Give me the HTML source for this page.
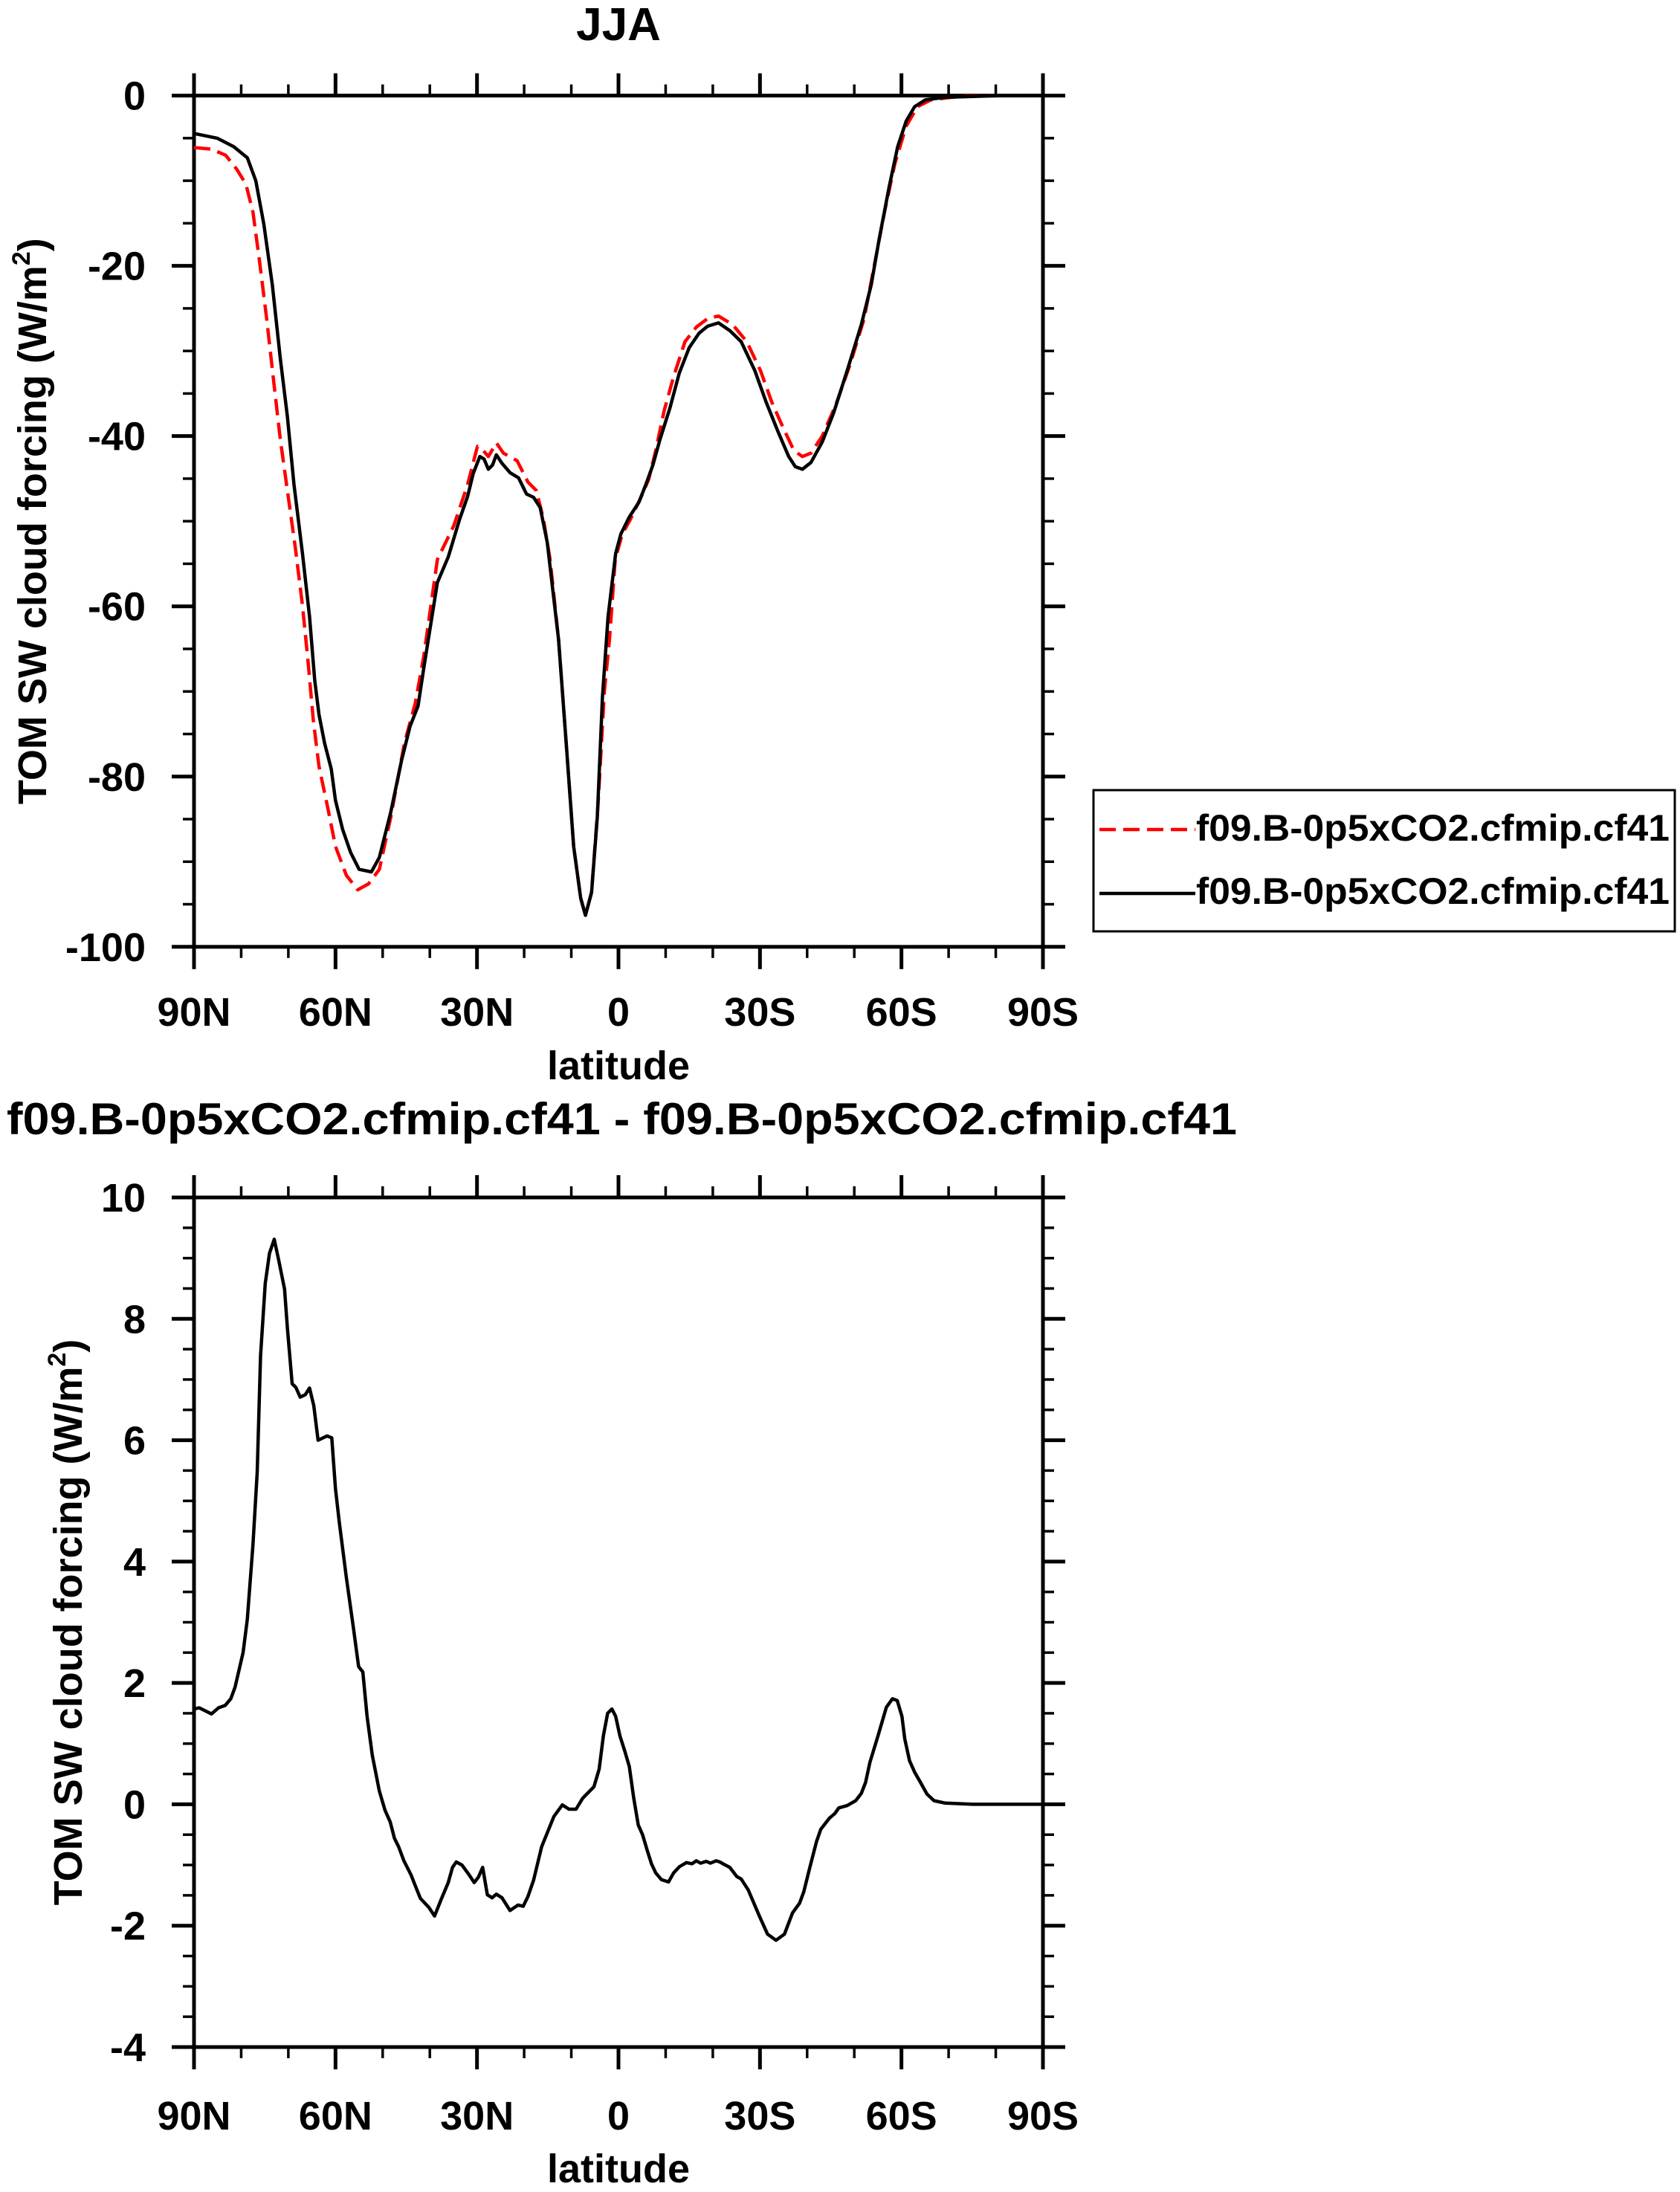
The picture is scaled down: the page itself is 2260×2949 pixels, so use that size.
<!DOCTYPE html>
<html><head><meta charset="utf-8"><style>
html,body{margin:0;padding:0;background:#fff;}
svg text{font-family:"Liberation Sans",Arial,sans-serif;font-weight:bold;fill:#000;}
</style></head><body>
<svg id="chart" xmlns="http://www.w3.org/2000/svg" width="2260" height="2944" viewBox="0 0 2260 2944">
<rect x="0" y="0" width="2260" height="2944" fill="#fff"/>
<text x="832" y="54" font-size="62" text-anchor="middle">JJA</text>
<text x="9" y="1526" font-size="60" textLength="1655" lengthAdjust="spacingAndGlyphs">f09.B-0p5xCO2.cfmip.cf41 - f09.B-0p5xCO2.cfmip.cf41</text>
<g id="top"></g>
<g id="bot"></g>
<g>
<rect x="1471" y="1063" width="782" height="190" fill="none" stroke="#000" stroke-width="3"/>
<line x1="1479" y1="1116" x2="1608" y2="1116" stroke="#f00" stroke-width="4.5" stroke-dasharray="22,10"/>
<text x="1609" y="1131" font-size="50" textLength="637" lengthAdjust="spacingAndGlyphs">f09.B-0p5xCO2.cfmip.cf41</text>
<line x1="1479" y1="1202" x2="1608" y2="1202" stroke="#000" stroke-width="4.5"/>
<text x="1609" y="1216" font-size="50" textLength="637" lengthAdjust="spacingAndGlyphs">f09.B-0p5xCO2.cfmip.cf41</text>
</g>
</svg>
<script>
const xTickVals=[90,60,30,0,-30,-60,-90];
const xTickLabels=["90N","60N","30N","0","30S","60S","90S"];
const topYTicks=[0,-20,-40,-60,-80,-100];
const botYTicks=[10,8,6,4,2,0,-2,-4];
const blackLat=[90,85.1,81.6,78.7,76.9,75.2,73.4,71.7,70.2,68.8,67,65.5,64.4,63.5,62.3,60.9,60,58.5,56.8,55,52.4,50.7,48.3,46,44.2,42.5,41.3,38.4,36.1,33.7,32,30.8,29.4,28.5,27.6,26.7,25.9,24.7,23,21.2,19.5,18,16.6,15.1,12.7,11,9.5,8,7,5.7,4.5,3.4,2.2,0.6,-0.5,-2.3,-4.3,-5.8,-7.3,-8.8,-10.9,-12.9,-15,-17.1,-18.9,-21.2,-23.6,-26,-28.9,-31.3,-33.7,-36.1,-37.5,-39,-40.8,-43.2,-45.6,-48.5,-51.5,-53.6,-55.3,-57.4,-59.2,-61,-62.8,-65.1,-69.3,-75.2,-81.1,-90];
const blackVal=[-4.45,-5,-6,-7.3,-10,-15.1,-22.2,-30.9,-37.7,-45.7,-53.8,-61.2,-68.7,-72.7,-76.1,-79.1,-82.8,-86.2,-88.9,-90.9,-91.2,-89.5,-84.2,-78.1,-74.1,-71.7,-67.3,-57.2,-54.2,-49.8,-47.1,-44.4,-42.4,-42.7,-43.9,-43.4,-42.2,-43.2,-44.3,-44.9,-46.8,-47.2,-48.4,-52.5,-63.9,-76.7,-88.2,-94.3,-96.3,-93.6,-84.8,-70.7,-61.2,-53.8,-51.5,-49.5,-47.8,-45.7,-43.4,-40.4,-36.7,-32.6,-29.6,-27.9,-27.1,-26.7,-27.6,-28.9,-32.3,-36,-39.3,-42.4,-43.6,-43.9,-43.1,-40.7,-37.3,-32.3,-26.9,-22.2,-16.8,-10.7,-6,-3,-1.3,-0.5,-0.2,-0.1,0,0];
const redLat=[90,86.3,83.3,81,79,77.5,76.1,74.6,73.1,71.7,70.2,68.5,67,65.8,64.7,63.5,61.7,60,57.7,55.3,53,50.7,48.3,45.4,43.1,41.3,38.4,34.9,32,29.9,28.8,27.6,25.9,24.4,21.5,19.2,17.4,15.9,14.5,12.7,11,9.5,8,7,5.7,4.3,3,1.9,0.7,-0.8,-2.5,-4.6,-6.4,-7.9,-9.7,-11.7,-14.1,-16.5,-18.9,-21.2,-24.2,-27.2,-30.1,-32.5,-34.9,-37.2,-39,-40.8,-43.2,-46.1,-49.1,-52.1,-54.4,-56.5,-58.6,-61,-63.4,-66.3,-72.2,-81,-90];
const redVal=[-6.1,-6.3,-7,-8.6,-10.4,-13.7,-19.5,-26.2,-33.6,-40.4,-46.4,-53.2,-59.9,-66.6,-73.4,-78.8,-83.5,-88.2,-91.6,-93.3,-92.6,-90.9,-84.8,-76.1,-71.4,-65.9,-54.5,-50.5,-45.7,-41.2,-41.6,-42.4,-40.8,-42,-42.9,-45.4,-46.4,-49.8,-54.5,-63.9,-76.7,-88.2,-94.3,-96.3,-93.6,-83,-70,-63.9,-54.5,-51.5,-49.8,-47.4,-45.1,-41.7,-37,-33,-28.9,-27.2,-26.2,-25.9,-26.9,-28.9,-32.3,-36,-39,-41.7,-42.4,-42,-40,-36.3,-31.6,-26.2,-19.5,-13.4,-8,-3.6,-1.3,-0.5,-0.1,0,0];
const diffLat=[90,88.9,86.3,84.8,83.4,82.2,81.3,79.6,78.7,77.5,76.6,75.9,74.9,74.0,73.0,72.0,70.8,70.2,69.2,68.4,67.5,66.4,65.5,64.6,63.7,61.8,60.8,60.0,59.2,57.7,56.2,55.1,54.2,53.3,52.2,50.7,49.5,48.4,47.5,46.6,45.5,44.0,43.1,42.0,40.2,39.0,37.6,36.1,35.2,34.4,33.2,31.7,30.6,29.7,28.8,27.8,26.8,25.9,24.7,23.0,21.3,20.2,19.2,18.0,16.3,15.1,13.7,11.9,10.5,9.0,7.6,5.2,4.1,3.2,2.3,1.4,0.6,-0.3,-1.4,-2.3,-3.2,-4.2,-5.1,-6.1,-7.0,-7.9,-9.1,-10.6,-11.7,-12.9,-14.4,-15.6,-16.5,-17.4,-18.6,-19.5,-20.7,-21.5,-22.4,-23.6,-25.1,-26.0,-27.5,-28.6,-29.8,-31.6,-33.4,-35.2,-36.9,-38.4,-39.3,-40.5,-42.0,-42.9,-44.7,-45.9,-46.7,-48.5,-50.3,-51.5,-52.4,-53.3,-55.0,-56.8,-58.1,-59.1,-60.1,-60.7,-61.7,-62.8,-63.9,-65.4,-66.9,-69.3,-75.2,-90];
const diffVal=[1.57,1.59,1.49,1.59,1.63,1.74,1.93,2.5,3.05,4.28,5.47,7.39,8.58,9.08,9.31,8.95,8.49,7.85,6.93,6.87,6.71,6.75,6.86,6.57,6.0,6.07,6.04,5.2,4.65,3.74,2.91,2.27,2.18,1.45,0.81,0.22,-0.1,-0.29,-0.56,-0.7,-0.93,-1.16,-1.34,-1.55,-1.7,-1.84,-1.57,-1.29,-1.04,-0.95,-1.0,-1.16,-1.29,-1.2,-1.04,-1.49,-1.54,-1.48,-1.54,-1.75,-1.66,-1.68,-1.52,-1.25,-0.7,-0.47,-0.2,-0.01,-0.08,-0.08,0.1,0.29,0.58,1.13,1.5,1.57,1.45,1.13,0.86,0.62,0.12,-0.34,-0.5,-0.76,-0.98,-1.13,-1.24,-1.28,-1.13,-1.03,-0.96,-0.98,-0.93,-0.97,-0.94,-0.97,-0.93,-0.95,-0.99,-1.04,-1.19,-1.23,-1.41,-1.61,-1.83,-2.14,-2.24,-2.14,-1.79,-1.63,-1.44,-1.06,-0.61,-0.41,-0.23,-0.15,-0.06,-0.02,0.06,0.18,0.36,0.69,1.12,1.6,1.74,1.71,1.45,1.08,0.72,0.53,0.38,0.17,0.06,0.02,0,0];

const NS="http://www.w3.org/2000/svg";
function mk(parent,tag,attrs){const e=document.createElementNS(NS,tag);for(const k in attrs)e.setAttribute(k,attrs[k]);parent.appendChild(e);return e;}
const L=261,R=1403;
function xs(lat){return L+(90-lat)*(R-L)/180;}

function drawPanel(g,yTop,yBot,vTop,vBot,yTicks,yMinorStep,yLabelX,tickLabelY,latY,prefix){
  const ys=v=>yTop+(vTop-v)*(yBot-yTop)/(vTop-vBot);
  const box=mk(g,'rect',{x:L,y:yTop,width:R-L,height:yBot-yTop,fill:'none',stroke:'#000','stroke-width':5});
  
  
  for(let lat=90;lat>=-90;lat-=10){
    const major=lat%30===0, len=major?30:15, x=xs(lat), w=major?5:3.5;
    const t1=mk(g,'line',{x1:x,y1:yTop,x2:x,y2:yTop-len,stroke:'#000','stroke-width':w});
    
    
    const t2=mk(g,'line',{x1:x,y1:yBot,x2:x,y2:yBot+len,stroke:'#000','stroke-width':w});
    
    
  }
  xTickVals.forEach((v,i)=>{
    const t=mk(g,'text',{x:xs(v),y:tickLabelY,'font-size':54,'text-anchor':'middle'});
    t.textContent=xTickLabels[i];
    
    
  });
  for(let v=vTop;v>=vBot-1e-9;v-=yMinorStep){
    const vv=Math.round(v*100)/100;
    const major=yTicks.some(t=>Math.abs(t-vv)<1e-6), len=major?30:15, y=ys(vv), w=major?5:3.5;
    const a=mk(g,'line',{x1:L,y1:y,x2:L-len,y2:y,stroke:'#000','stroke-width':w});
    
    
    const b=mk(g,'line',{x1:R,y1:y,x2:R+len,y2:y,stroke:'#000','stroke-width':w});
    
    
  }
  yTicks.forEach(v=>{
    const t=mk(g,'text',{x:196,y:ys(v)+19,'font-size':54,'text-anchor':'end'});
    t.textContent=String(v);
    
    
  });
  const cy=(yTop+yBot)/2;
  const yt=mk(g,'text',{x:yLabelX,y:cy,'font-size':54,'text-anchor':'middle',transform:`rotate(-90 ${yLabelX} ${cy})`,dy:19});
  yt.innerHTML='TOM SW cloud forcing (W/m<tspan font-size="34" dy="-22">2</tspan><tspan dy="22">)</tspan>';
  
  
  const xt=mk(g,'text',{x:(L+R)/2,y:latY,'font-size':54,'text-anchor':'middle'});
  xt.textContent='latitude';
  
  
  return ys;
}
function series(g,lats,vals,ys,color,dash,name){
  const d=lats.map((la,i)=>(i?'L':'M')+xs(la).toFixed(1)+','+ys(vals[i]).toFixed(1)).join(' ');
  const p=mk(g,'path',{d:d,fill:'none',stroke:color,'stroke-width':4.5,'stroke-linejoin':'round'});
  if(dash)p.setAttribute('stroke-dasharray',dash);
  
  
}
const gt=document.getElementById('top');


const ysT=drawPanel(gt,128.6,1273.8,0,-100,topYTicks,5,43,1380,1452,'top');
series(gt,redLat,redVal,ysT,'#f00','22,10','red-dashed-series');
series(gt,blackLat,blackVal,ysT,'#000',null,'black-series');
const gb=document.getElementById('bot');


const ysB=drawPanel(gb,1611,2754,10,-4,botYTicks,0.5,91,2865,2936,'bottom');
series(gb,diffLat,diffVal,ysB,'#000',null,'difference-series');
</script>
</body></html>
